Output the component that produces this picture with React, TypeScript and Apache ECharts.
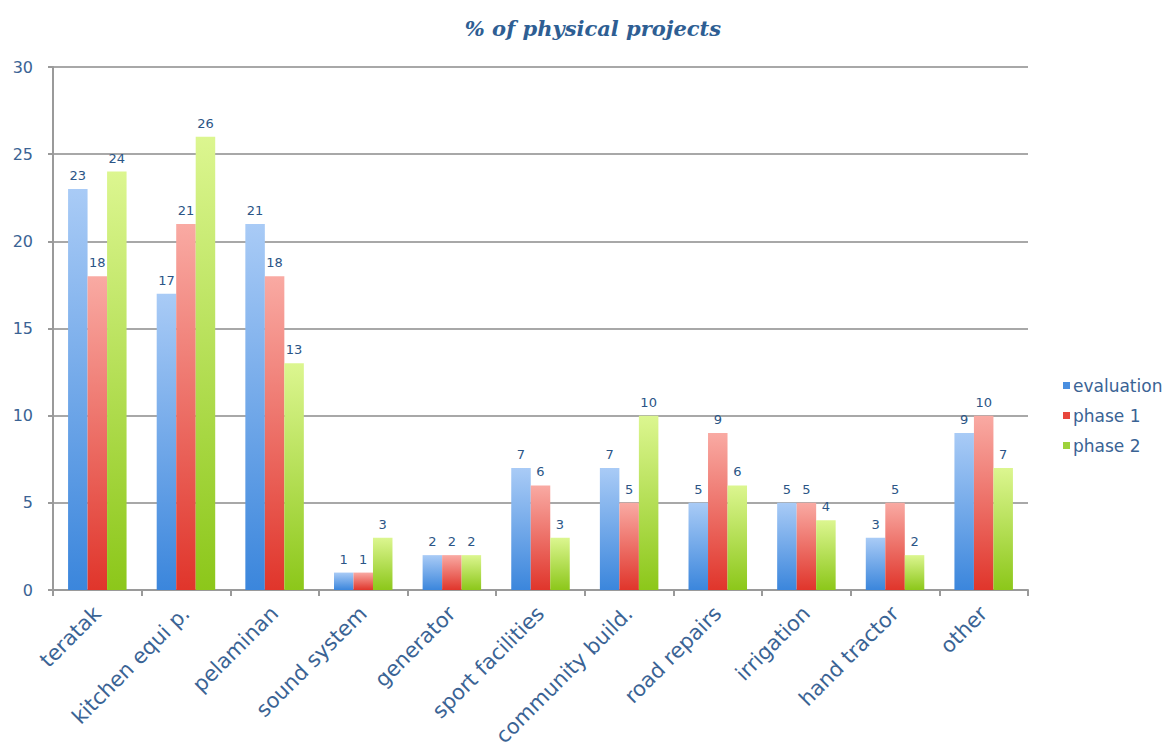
import React, { useEffect, useRef } from "react";
import * as echarts from "echarts";

const categories = [
  "teratak",
  "kitchen equi p.",
  "pelaminan",
  "sound system",
  "generator",
  "sport facilities",
  "community build.",
  "road repairs",
  "irrigation",
  "hand tractor",
  "other",
];
const evaluation = [23, 17, 21, 1, 2, 7, 7, 5, 5, 3, 9];
const phase1 = [18, 21, 18, 1, 2, 6, 5, 9, 5, 5, 10];
const phase2 = [24, 26, 13, 3, 2, 3, 10, 6, 4, 2, 7];
const yTicks = { min: 0, max: 30, interval: 5 };

const TEXT = "#3a6394";
const SANS = "DejaVu Sans, Liberation Sans, Arial, sans-serif";

function grad(top: string, bottom: string) {
  return new echarts.graphic.LinearGradient(0, 0, 0, 1, [
    { offset: 0, color: top },
    { offset: 1, color: bottom },
  ]);
}

function barSeries(name: string, data: number[], top: string, bottom: string, legendColor: string) {
  return {
    name,
    type: "bar",
    data,
    barGap: "0%",
    barCategoryGap: "34%",
    itemStyle: { color: grad(top, bottom) },
    label: {
      show: true,
      position: "top",
      distance: 7,
      color: "#2b5586",
      fontFamily: SANS,
      fontSize: 13,
    },
    legendColor,
  };
}

export default function App() {
  const ref = useRef<HTMLDivElement>(null);
  useEffect(() => {
    document.body.style.margin = "0";
    const chart = echarts.init(ref.current!, null, { renderer: "svg" });
    const series = [
      barSeries("evaluation", evaluation, "#a9cbf6", "#3b86dc", "#4a8fe0"),
      barSeries("phase 1", phase1, "#f9aaa3", "#e0352b", "#e8463c"),
      barSeries("phase 2", phase2, "#dcf690", "#8cc71a", "#9ed23a"),
    ];
    chart.setOption({
      animation: false,
      backgroundColor: "#ffffff",
      title: {
        text: "% of physical projects",
        left: 588,
        top: 13,
        textAlign: "center",
        textStyle: {
          color: "#2e5e93",
          fontFamily: "DejaVu Serif, serif",
          fontStyle: "italic",
          fontWeight: "bold",
          fontSize: 21,
        },
      },
      legend: {
        orient: "vertical",
        left: 1058,
        top: 372,
        itemWidth: 7,
        itemHeight: 7,
        itemGap: 13,
        icon: "rect",
        textStyle: {
          color: TEXT,
          fontFamily: SANS,
          fontSize: 17,
          padding: [0, 0, 0, -2],
        },
        data: series.map((s) => ({ name: s.name, itemStyle: { color: s.legendColor } })),
      },
      grid: { left: 53, right: 136, top: 67, bottom: 161, containLabel: false },
      xAxis: {
        type: "category",
        data: categories,
        axisLine: { lineStyle: { color: "#9a9a9a", width: 2 } },
        axisTick: { show: true, length: 6, lineStyle: { color: "#9a9a9a", width: 2 } },
        axisLabel: {
          rotate: 45,
          color: TEXT,
          fontFamily: SANS,
          fontSize: 21,
          margin: 20,
          interval: 0,
        },
      },
      yAxis: {
        type: "value",
        min: yTicks.min,
        max: yTicks.max,
        interval: yTicks.interval,
        axisLine: { show: true, lineStyle: { color: "#9a9a9a", width: 2 } },
        axisTick: { show: true, length: 5, lineStyle: { color: "#9a9a9a", width: 2 } },
        splitLine: { lineStyle: { color: "#a8a8a8", width: 2 } },
        axisLabel: {
          color: TEXT,
          fontFamily: SANS,
          fontSize: 16,
          margin: 20,
        },
      },
      series: series.map(({ legendColor, ...s }) => s),
    });
    return () => chart.dispose();
  }, []);
  return <div ref={ref} style={{ width: 1164, height: 751 }} />;
}
